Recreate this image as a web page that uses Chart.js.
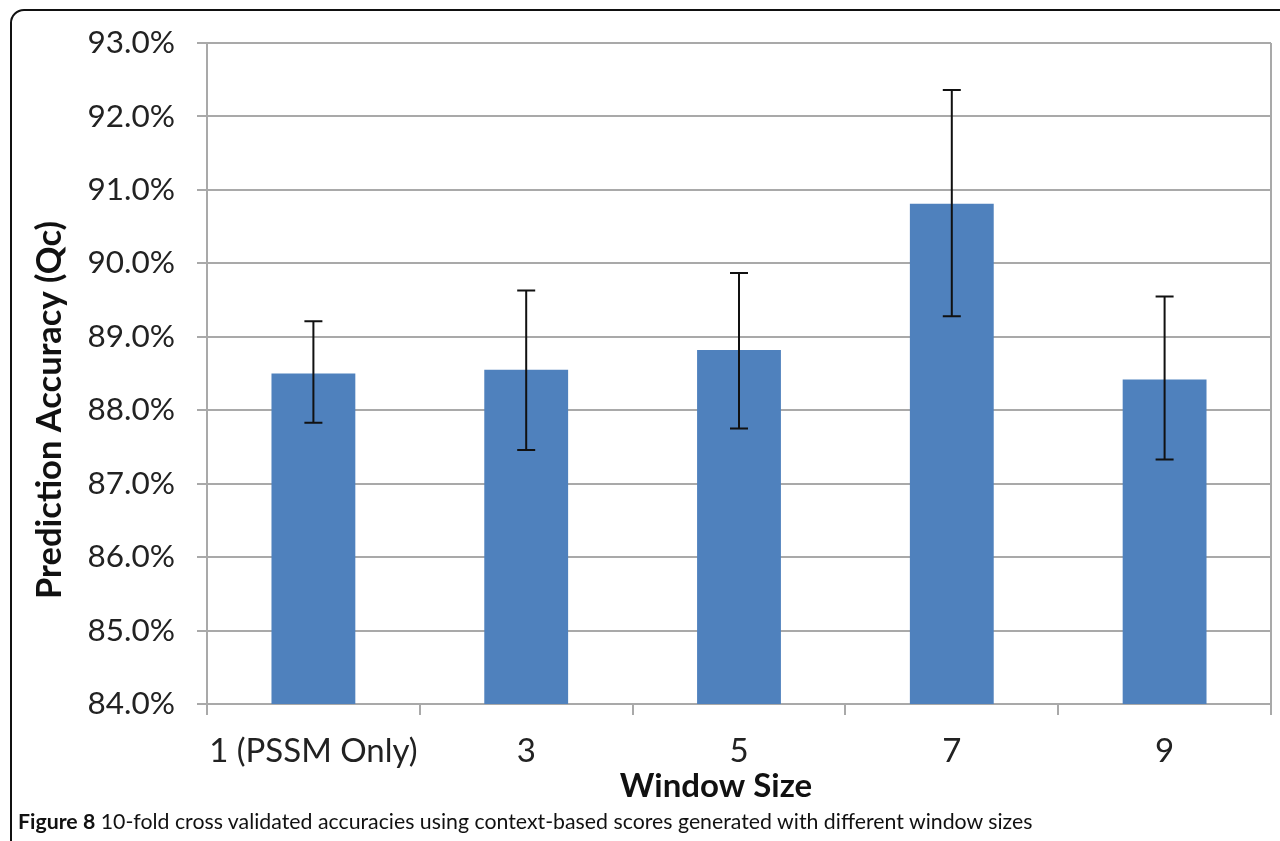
<!DOCTYPE html>
<html>
<head>
<meta charset="utf-8">
<script src="https://cdn.jsdelivr.net/npm/chart.js@4.4.1/dist/chart.umd.min.js"></script>
<style>
  html, body { margin: 0; padding: 0; width: 1280px; height: 841px; overflow: hidden; background: #fff; }
  #frame { position: absolute; left: 10px; top: 9px; width: 1320px; height: 900px; border: 2px solid #111; border-radius: 14px; box-sizing: border-box; }
  #c { position: absolute; left: 0; top: 0; }
  #caption { position: absolute; left: 18px; top: 808px; font-family: Lato, "Open Sans", sans-serif; font-size: 21.3px; color: #111; white-space: nowrap; }
  #caption b { font-weight: 700; }
</style>
</head>
<body>
<div id="frame"></div>
<canvas id="c" width="1280" height="841"></canvas>
<div id="caption"><b>Figure 8</b> 10-fold cross validated accuracies using context-based scores generated with different window sizes</div>
<script>
// ---- data ----
const categories = ['1 (PSSM Only)', '3', '5', '7', '9'];
const accuracy = [88.50, 88.55, 88.82, 90.81, 88.42];
const errorHigh = [89.21, 89.63, 89.87, 92.36, 89.55];
const errorLow = [87.83, 87.46, 87.75, 89.28, 87.33];
const yTickMin = 84;
const yTickMax = 93;
const yTitle = 'Prediction Accuracy (Qc)';
const xTitle = 'Window Size';

const FONT = 'Lato, "Open Sans", sans-serif';
const GRID = '#a9a9a9';

const extras = {
  id: 'extras',
  afterDatasetsDraw(chart) {
    const ctx = chart.ctx;
    const y = chart.scales.y;
    const meta = chart.getDatasetMeta(0);
    ctx.save();
    ctx.strokeStyle = '#111';
    ctx.lineWidth = 2;
    meta.data.forEach((bar, i) => {
      const x = bar.x;
      const yh = y.getPixelForValue(errorHigh[i]);
      const yl = y.getPixelForValue(errorLow[i]);
      ctx.beginPath();
      ctx.moveTo(x, yh); ctx.lineTo(x, yl);
      ctx.moveTo(x - 9, yh); ctx.lineTo(x + 9, yh);
      ctx.moveTo(x - 9, yl); ctx.lineTo(x + 9, yl);
      ctx.stroke();
    });
    ctx.restore();
  },
  afterDraw(chart) {
    const ctx = chart.ctx;
    const a = chart.chartArea;
    ctx.save();
    // right border of plot area
    ctx.strokeStyle = GRID;
    ctx.lineWidth = 2;
    ctx.beginPath();
    ctx.moveTo(a.right, a.top);
    ctx.lineTo(a.right, a.bottom + 11);
    ctx.stroke();
    // axis titles
    ctx.fillStyle = '#111';
    ctx.font = 'bold 34.5px ' + FONT;
    ctx.textAlign = 'center';
    ctx.textBaseline = 'middle';
    ctx.save();
    ctx.translate(50, 410);
    ctx.rotate(-Math.PI / 2);
    ctx.fillText(yTitle, 0, 0);
    ctx.restore();
    ctx.font = 'bold 33px ' + FONT;
    ctx.fillText(xTitle, 716, 786);
    ctx.restore();
  }
};

new Chart(document.getElementById('c'), {
  type: 'bar',
  data: {
    labels: categories,
    datasets: [{
      data: accuracy,
      backgroundColor: '#4f81bd',
      borderWidth: 0,
      categoryPercentage: 1,
      barPercentage: 0.394
    }]
  },
  options: {
    responsive: false,
    animation: false,
    devicePixelRatio: 1,
    layout: { padding: { top: 43, right: 9, left: 0, bottom: 0 } },
    plugins: { legend: { display: false }, tooltip: { enabled: false } },
    scales: {
      x: {
        offset: true,
        grid: { offset: true, drawOnChartArea: false, drawTicks: true, tickLength: 11, color: GRID, lineWidth: 2 },
        border: { display: true, color: GRID, width: 2 },
        ticks: { color: '#222', font: { family: FONT, size: 33 }, padding: 17, maxRotation: 0 },
        afterFit(scale) { scale.height = 137; }
      },
      y: {
        min: yTickMin,
        max: yTickMax,
        ticks: {
          stepSize: 1,
          color: '#222',
          font: { family: FONT, size: 31.5 },
          padding: 22,
          callback: v => v.toFixed(1) + '%'
        },
        grid: { color: GRID, lineWidth: 2, tickLength: 10, drawTicks: true },
        border: { display: true, color: GRID, width: 2 },
        afterFit(scale) { scale.width = 207; }
      }
    }
  },
  plugins: [extras]
});
</script>
</body>
</html>
